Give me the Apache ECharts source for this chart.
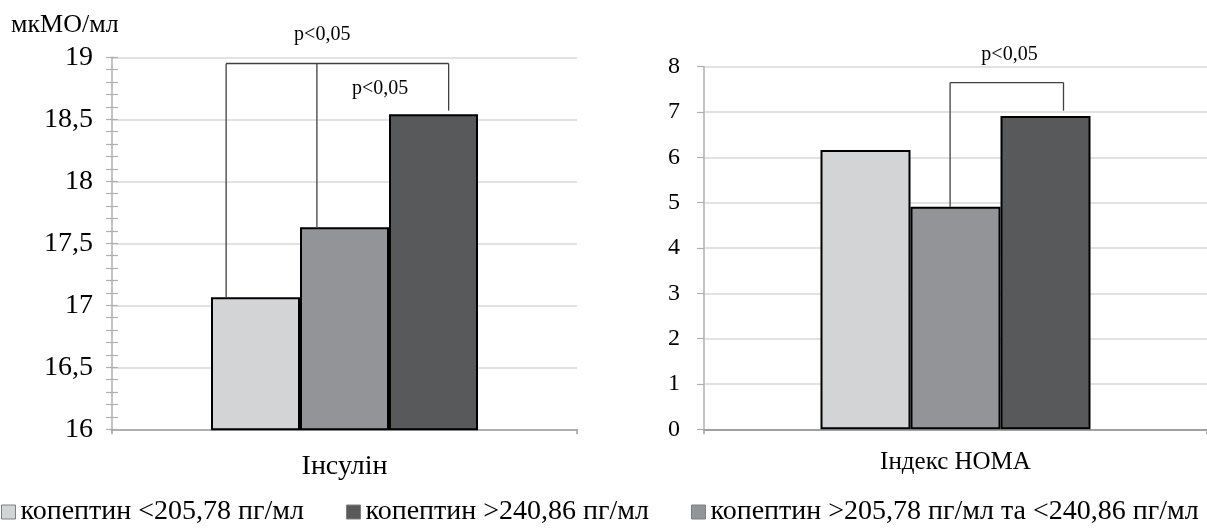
<!DOCTYPE html>
<html><head><meta charset="utf-8">
<script src="https://cdn.jsdelivr.net/npm/echarts@6/dist/echarts.min.js"></script>
<style>html,body{margin:0;padding:0;background:#fff}#c{width:1207px;height:530px}</style>
</head><body><div id="c"></div>
<script>
// ---- data ----
const seriesNames = ['копептин <205,78 пг/мл', 'копептин >205,78 пг/мл та <240,86 пг/мл', 'копептин >240,86 пг/мл'];
const legendOrder = ['копептин <205,78 пг/мл', 'копептин >240,86 пг/мл', 'копептин >205,78 пг/мл та <240,86 пг/мл'];
const insulinCategory = ['Інсулін'];
const homaCategory = ['Індекс HOMA'];
const insulinValues = [17.065, 17.63, 18.54];
const homaValues = [6.16, 4.91, 6.91];
const insulinMin = 16, insulinMax = 19, insulinStep = 0.5;
const homaMin = 0, homaMax = 8, homaStep = 1;
const unitLabel = 'мкМО/мл';
const pLabel = 'p<0,05';
// significance brackets: top level, legs as [bar index, lower end value], label levels
const insulinBracketTop = 18.95;
const insulinBracketLegs = [[0, 17.065], [1, 17.63], [2, 18.57]];
const insulinPLabelLevels = [19.18, 18.75];
const homaBracketTop = 7.65;
const homaBracketLegs = [[1, 4.91], [2, 7.03]];
const homaPLabelLevels = [8.26];

// ---- style ----
const FONT = 'Liberation Serif';
const colors = ['#d3d4d6', '#939497', '#58595b'];
const barW = [89, 90];
const legFracs = [[0.17, 0.19, 0.67], [0.44, 0.70]];
const labelShifts = [[-0.25, 0.4], [0.6]]; // in bar widths from category centre

const chart = echarts.init(document.getElementById('c'), null, {renderer: 'canvas'});

function bracketRenderer(top, legs, fracs, levels, shifts, bw) {
  return function (params, api) {
    const p = api.coord([0, top]);
    const cx = p[0];
    const xs = legs.map((l, i) => cx + (l[0] - 1.5) * bw + fracs[i] * bw);
    const children = [];
    const ls = {stroke: '#404040', lineWidth: 1.3};
    children.push({type: 'line', shape: {x1: xs[0], y1: p[1], x2: xs[xs.length - 1], y2: p[1]}, style: ls});
    legs.forEach((l, i) => {
      const e = api.coord([0, l[1]]);
      children.push({type: 'line', shape: {x1: xs[i], y1: p[1], x2: xs[i], y2: e[1]}, style: ls});
    });
    levels.forEach((lv, i) => {
      const q = api.coord([0, lv]);
      children.push({type: 'text', x: cx + shifts[i] * bw, y: q[1],
        style: {text: pLabel, fontSize: 20, fontFamily: FONT, fill: '#000', align: 'center', verticalAlign: 'middle'}});
    });
    return {type: 'group', children: children};
  };
}

const fmt = v => String(v).replace('.', ',');
const gridLine = {show: true, lineStyle: {color: '#d9d9d9', width: 1.5}};

const option = {
  backgroundColor: '#fff',
  animation: false,
  textStyle: {fontFamily: FONT},
  title: {text: unitLabel, left: 11, top: 12, padding: 0,
    textStyle: {fontSize: 26, fontWeight: 'normal', fontFamily: FONT, color: '#000'}},
  legend: {data: legendOrder, left: 1, top: 498, padding: 0, itemWidth: 14, itemHeight: 14, itemGap: 42,
    icon: 'rect', textStyle: {fontSize: 28, fontFamily: FONT, color: '#000'},
    itemStyle: {borderColor: '#7f7f7f', borderWidth: 1}},
  grid: [
    {left: 112, right: 1207 - 577, top: 57.3, bottom: 530 - 429.3},
    {left: 704, right: -10, top: 66.7, bottom: 530 - 429.3}
  ],
  xAxis: [
    {type: 'category', gridIndex: 0, data: insulinCategory,
      axisLine: {lineStyle: {color: '#a0a0a0', width: 1.5}},
      axisTick: {show: true, length: 5, lineStyle: {color: '#a0a0a0', width: 1.5}},
      axisLabel: {fontSize: 28, fontFamily: FONT, color: '#000', margin: 23}},
    {type: 'category', gridIndex: 1, data: homaCategory,
      axisLine: {lineStyle: {color: '#8c8c8c', width: 1.5}},
      axisTick: {show: true, length: 5, lineStyle: {color: '#a0a0a0', width: 1.5}},
      axisLabel: {fontSize: 25, fontFamily: FONT, color: '#000', margin: 21}}
  ],
  yAxis: [
    {type: 'value', gridIndex: 0, position: 'left', min: insulinMin, max: insulinMax, interval: insulinStep,
      axisLine: {show: true, lineStyle: {color: '#b0b0b0', width: 1.5}},
      axisTick: {show: true, length: 6, lineStyle: {color: '#b0b0b0', width: 1.2}},
      minorTick: {show: true, splitNumber: 5, length: 6, lineStyle: {color: '#b0b0b0', width: 1.2}},
      axisLabel: {fontSize: 28, fontFamily: FONT, color: '#000', margin: 19, formatter: fmt},
      splitLine: gridLine},
    {type: 'value', gridIndex: 0, position: 'left', offset: 0, min: insulinMin, max: insulinMax, interval: insulinStep,
      axisLine: {show: false},
      axisTick: {show: true, inside: true, length: 6, lineStyle: {color: '#b0b0b0', width: 1.2}},
      minorTick: {show: true, splitNumber: 5, length: 6, lineStyle: {color: '#b0b0b0', width: 1.2}},
      axisLabel: {show: false}, splitLine: {show: false}},
    {type: 'value', gridIndex: 1, position: 'left', min: homaMin, max: homaMax, interval: homaStep,
      axisLine: {show: true, lineStyle: {color: '#b0b0b0', width: 1.5}},
      axisTick: {show: true, length: 7, lineStyle: {color: '#b0b0b0', width: 1.2}},
      axisLabel: {fontSize: 24, fontFamily: FONT, color: '#000', margin: 24, formatter: fmt},
      splitLine: gridLine}
  ],
  series: []
};

seriesNames.forEach((name, i) => {
  option.series.push({type: 'bar', name: name, xAxisIndex: 0, yAxisIndex: 0, barWidth: barW[0], barGap: '0%',
    itemStyle: {color: colors[i], borderColor: '#000', borderWidth: 2}, data: [insulinValues[i]]});
});
seriesNames.forEach((name, i) => {
  option.series.push({type: 'bar', name: name, xAxisIndex: 1, yAxisIndex: 2, barWidth: barW[1], barGap: '0%',
    itemStyle: {color: colors[i], borderColor: '#000', borderWidth: 2}, data: [homaValues[i]]});
});
option.series.push({type: 'custom', name: 'brackets-insulin', xAxisIndex: 0, yAxisIndex: 0, clip: false, z: 5,
  renderItem: bracketRenderer(insulinBracketTop, insulinBracketLegs, legFracs[0], insulinPLabelLevels, labelShifts[0], barW[0]),
  data: [[0, insulinBracketTop]]});
option.series.push({type: 'custom', name: 'brackets-homa', xAxisIndex: 1, yAxisIndex: 2, clip: false, z: 5,
  renderItem: bracketRenderer(homaBracketTop, homaBracketLegs, legFracs[1], homaPLabelLevels, labelShifts[1], barW[1]),
  data: [[0, homaBracketTop]]});

chart.setOption(option);
</script>
</body></html>
